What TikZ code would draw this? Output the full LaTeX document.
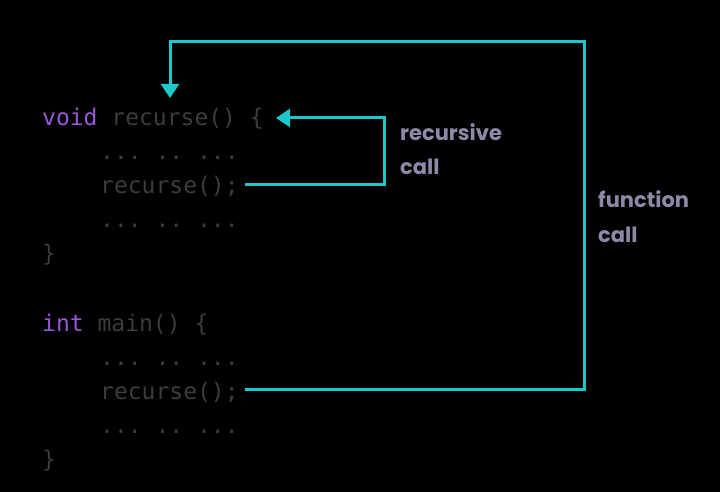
\documentclass[tikz,border=0pt]{standalone}
\usepackage{fontspec}
\setmonofont{DejaVu Sans Mono}
\newfontfamily\labfont{Poppins}
\usetikzlibrary{arrows.meta}
\definecolor{codegray}{HTML}{3C3C3C}
\definecolor{kw}{HTML}{9B55D6}
\definecolor{cy}{HTML}{1CC8CC}
\definecolor{lab}{HTML}{8C8AA8}
\begin{document}
\begin{tikzpicture}[x=1pt,y=-1pt,
  code/.style={anchor=base west,inner sep=0pt,font=\ttfamily\fontsize{23}{23}\selectfont,text=codegray},
  lbl/.style={anchor=base west,inner sep=0pt,font=\labfont\bfseries\fontsize{21}{21}\selectfont,text=lab},
  conn/.style={draw=cy,line width=3pt,-{Triangle[length=14pt,width=18pt]}}]
\fill[black] (0,0) rectangle (720,492);
\useasboundingbox (0,0) rectangle (720,492);
\node[code] (l1) at (42,125) {\textcolor{kw}{void} recurse() \{};
\node[code] (l2) at (100,159) {... .. ...};
\node[code] (l3) at (100,193) {recurse();};
\node[code] (l4) at (42,261) {\}};
\node[code] (l5) at (42,331) {\textcolor{kw}{int} main() \{};
\node[code] (l6) at (100,365) {... .. ...};
\node[code] (l7) at (100,399) {recurse();};
\node[code] (l8) at (100,433) {... .. ...};
\node[code] (l9) at (42,467) {\}};
\node[code] (l2b) at (100,227) {... .. ...};
\node[lbl] (r1) at (400,140) {recursive};
\node[lbl] (r2) at (400,174) {call};
\node[lbl] (f1) at (598,207) {function};
\node[lbl] (f2) at (598,242) {call};
\coordinate (a1) at (245,184);
\coordinate (a2) at (276,118);
\coordinate (b1) at (245,389);
\coordinate (b2) at (170,98);
\draw[conn] (a1) -- (384,184) -- (384,118) -- (a2);
\draw[conn] (b1) -- (584,389) -- (584,42) -- (170,42) -- (b2);
\end{tikzpicture}
\end{document}
